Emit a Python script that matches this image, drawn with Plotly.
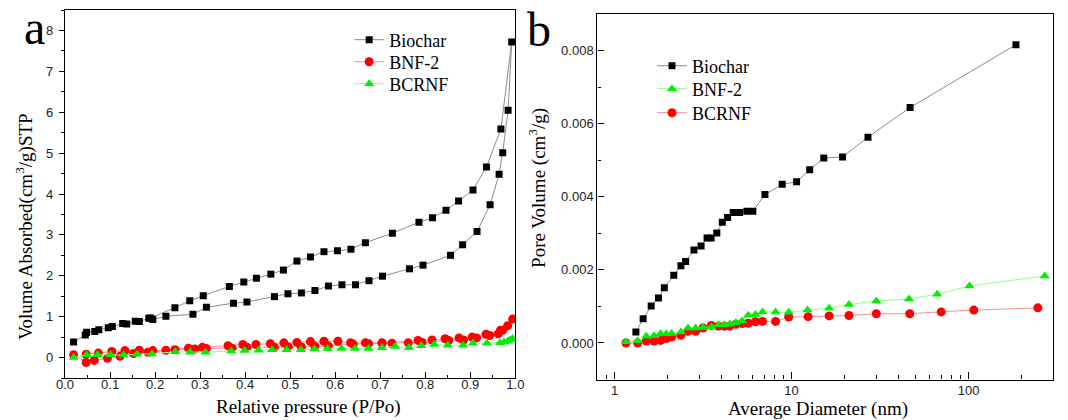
import math
import plotly.graph_objects as go

# ---------------- Panel a : N2 adsorption-desorption isotherms ----------------
biochar_ads_p = [0.019, 0.045, 0.048, 0.066, 0.075, 0.096, 0.105, 0.128, 0.137, 0.156, 0.165,
                 0.186, 0.195, 0.224, 0.284, 0.314, 0.374, 0.404, 0.465, 0.495, 0.525, 0.555,
                 0.585, 0.615, 0.645, 0.675, 0.705, 0.765, 0.795, 0.856, 0.883, 0.915, 0.944,
                 0.964, 0.972, 0.984, 0.992]
biochar_ads_v = [0.38, 0.55, 0.62, 0.64, 0.68, 0.73, 0.76, 0.83, 0.82, 0.89, 0.88,
                 0.96, 0.93, 1.01, 1.06, 1.23, 1.33, 1.36, 1.49, 1.56, 1.58, 1.64,
                 1.75, 1.78, 1.78, 1.88, 1.99, 2.17, 2.26, 2.50, 2.76, 3.08, 3.74,
                 4.48, 5.01, 6.05, 7.72]
biochar_des_p = [0.968, 0.936, 0.906, 0.874, 0.846, 0.816, 0.786, 0.727, 0.667, 0.635, 0.605,
                 0.575, 0.545, 0.515, 0.485, 0.457, 0.425, 0.397, 0.365, 0.307, 0.277, 0.244,
                 0.190]
biochar_des_v = [5.59, 4.66, 4.10, 3.83, 3.60, 3.42, 3.31, 3.04, 2.81, 2.65, 2.61,
                 2.59, 2.46, 2.36, 2.14, 2.04, 1.94, 1.85, 1.74, 1.51, 1.39, 1.22,
                 0.97]

bnf2_ads_p = [0.019, 0.047, 0.065, 0.094, 0.122, 0.152, 0.184, 0.224, 0.244, 0.288, 0.314,
              0.371, 0.404, 0.465, 0.496, 0.525, 0.555, 0.585, 0.640, 0.674, 0.704, 0.726,
              0.762, 0.793, 0.852, 0.885, 0.914, 0.943, 0.962, 0.972, 0.983, 0.994]
bnf2_ads_v = [0.07, -0.12, -0.07, -0.02, 0.03, 0.10, 0.13, 0.18, 0.19, 0.21, 0.22,
              0.23, 0.25, 0.25, 0.26, 0.26, 0.27, 0.28, 0.33, 0.34, 0.35, 0.35,
              0.36, 0.37, 0.42, 0.43, 0.48, 0.54, 0.58, 0.67, 0.78, 0.94]
bnf2_des_p = [0.967, 0.935, 0.904, 0.875, 0.844, 0.815, 0.784, 0.704, 0.667, 0.634, 0.606,
              0.575, 0.545, 0.515, 0.486, 0.456, 0.424, 0.395, 0.362, 0.305, 0.274, 0.195,
              0.165, 0.133, 0.104, 0.074, 0.047]
bnf2_des_v = [0.67, 0.57, 0.50, 0.48, 0.46, 0.43, 0.42, 0.36, 0.36, 0.36, 0.40,
              0.40, 0.39, 0.37, 0.36, 0.34, 0.32, 0.32, 0.29, 0.25, 0.23, 0.17,
              0.18, 0.17, 0.15, 0.11, 0.08]

bcrnf_p = [0.019, 0.048, 0.072, 0.101, 0.130, 0.160, 0.193, 0.245, 0.278, 0.312, 0.369,
           0.399, 0.430, 0.460, 0.492, 0.524, 0.554, 0.583, 0.614, 0.644, 0.674, 0.704,
           0.733, 0.764, 0.791, 0.820, 0.850, 0.884, 0.906, 0.937, 0.966, 0.975, 0.983,
           0.988, 0.994]
bcrnf_v = [0.00, 0.07, 0.07, 0.07, 0.06, 0.08, 0.09, 0.14, 0.13, 0.13, 0.16,
           0.17, 0.18, 0.19, 0.19, 0.19, 0.21, 0.22, 0.22, 0.22, 0.22, 0.24,
           0.27, 0.24, 0.29, 0.32, 0.30, 0.30, 0.35, 0.35, 0.36, 0.38, 0.40,
           0.43, 0.46]

# ---------------- Panel b : pore size distribution ----------------
biochar_d = [1.32, 1.45, 1.61, 1.77, 1.91, 2.16, 2.37, 2.52, 2.81, 3.08, 3.33, 3.51, 3.78,
             4.06, 4.35, 4.68, 5.09, 5.59, 6.04, 7.07, 8.85, 10.67, 12.65, 15.2, 19.4, 27.0,
             46.7, 185.0]
biochar_pv = [0.00030, 0.00066, 0.00101, 0.00123, 0.00151, 0.00185, 0.00211, 0.00223, 0.00254,
              0.00265, 0.00287, 0.00287, 0.00301, 0.00330, 0.00343, 0.00357, 0.00357, 0.00360,
              0.00360, 0.00406, 0.00434, 0.00441, 0.00474, 0.00506, 0.00509, 0.00563, 0.00644,
              0.00816]

bnf2_d = [1.16, 1.35, 1.51, 1.67, 1.82, 1.96, 2.10, 2.37, 2.60, 2.87, 3.16, 3.52, 3.86, 4.17,
          4.48, 4.84, 5.25, 5.69, 6.24, 6.85, 8.12, 9.63, 12.3, 16.3, 21.1, 30.1, 46.0, 66.4,
          101.0, 269.0]
bnf2_pv = [0.00003, 0.00006, 0.00018, 0.00020, 0.00025, 0.00025, 0.00026, 0.00030, 0.00041,
           0.00041, 0.00042, 0.00044, 0.00050, 0.00050, 0.00052, 0.00055, 0.00060, 0.00076,
           0.00078, 0.00085, 0.00085, 0.00084, 0.00090, 0.00095, 0.00105, 0.00115, 0.00120,
           0.00133, 0.00156, 0.00183]

bcrnf_d = [1.16, 1.35, 1.51, 1.67, 1.82, 1.96, 2.10, 2.37, 2.60, 2.87, 3.16, 3.52, 3.86, 4.17,
           4.48, 4.84, 5.25, 5.69, 6.24, 6.85, 8.12, 9.63, 12.4, 16.3, 21.1, 30.1, 46.5, 70.0,
           107.0, 246.0]
bcrnf_pv = [0.00000, 0.00000, 0.00005, 0.00005, 0.00007, 0.00012, 0.00016, 0.00021, 0.00032,
            0.00032, 0.00041, 0.00048, 0.00046, 0.00046, 0.00046, 0.00051, 0.00053, 0.00054,
            0.00058, 0.00059, 0.00059, 0.00071, 0.00072, 0.00074, 0.00075, 0.00080, 0.00080,
            0.00085, 0.00090, 0.00096]

a_xticks = [0.0, 0.1, 0.2, 0.3, 0.4, 0.5, 0.6, 0.7, 0.8, 0.9, 1.0]
a_yticks = [0, 1, 2, 3, 4, 5, 6, 7, 8]
b_xticks = [1, 10, 100]
b_yticks = [0.000, 0.002, 0.004, 0.006, 0.008]

W, H = 1068, 420
SERIF = "Liberation Serif, Times New Roman, serif"
SANS = "Liberation Sans, Arial, sans-serif"

fig = go.Figure()

def line_marker(name, x, y, mcolor, lcolor, symbol, size, xa, ya, legend):
    fig.add_trace(go.Scatter(
        x=x, y=y, name=name, mode="lines+markers",
        line=dict(color=lcolor, width=1),
        marker=dict(color=mcolor, symbol=symbol, size=size, line=dict(width=0)),
        xaxis=xa, yaxis=ya, legend=legend))

# panel a traces (adsorption branch then desorption branch)
line_marker("Biochar", biochar_ads_p + biochar_des_p, biochar_ads_v + biochar_des_v,
            "black", "#8c8c8c", "square", 7, "x", "y", "legend")
line_marker("BNF-2", bnf2_ads_p + bnf2_des_p, bnf2_ads_v + bnf2_des_v,
            "#ff0000", "#ff9090", "circle", 9, "x", "y", "legend3")
line_marker("BCRNF", bcrnf_p, bcrnf_v,
            "#00ee00", "#90ff90", "triangle-up", 9, "x", "y", "legend4")

# panel b traces
line_marker("Biochar", biochar_d, biochar_pv, "black", "#8c8c8c", "square", 7, "x2", "y2", "legend2")
line_marker("BCRNF", bcrnf_d, bcrnf_pv, "#ff0000", "#ff9090", "circle", 9, "x2", "y2", "legend6")
line_marker("BNF-2", bnf2_d, bnf2_pv, "#00ee00", "#90ff90", "triangle-up", 9, "x2", "y2", "legend5")

def px(x):
    return x / W

def py(y):
    return 1 - y / H

axis_common = dict(showline=True, mirror=True, linecolor="black", linewidth=1.3,
                   showgrid=False, zeroline=False, tickcolor="black", tickwidth=1,
                   tickfont=dict(family=SANS, size=13, color="#222"))

minor_b_x = [0.9, 2, 3, 4, 5, 6, 7, 8, 9, 20, 30, 40, 50, 60, 70, 80, 90, 200]

def leg(x, y):
    return dict(x=px(x), y=py(y), xanchor="left", yanchor="middle",
                bgcolor="rgba(0,0,0,0)", font=dict(family=SERIF, size=18, color="black"),
                tracegroupgap=0, itemwidth=30)

fig.update_layout(
    width=W, height=H, margin=dict(l=0, r=0, t=0, b=0),
    paper_bgcolor="white", plot_bgcolor="white",
    xaxis=dict(domain=[px(57), px(515)], range=[0, 1], tickvals=a_xticks, tickformat=".1f",
               ticks="inside", ticklen=6, anchor="y", ticklabelstandoff=-6,
               minor=dict(ticks="inside", ticklen=3, dtick=0.05, tick0=0, tickcolor="black"),
               **axis_common),
    yaxis=dict(domain=[py(378), py(10)], range=[-0.5, 8.5], tickvals=a_yticks,
               ticks="outside", ticklen=5, anchor="x", ticklabelstandoff=3,
               minor=dict(ticks="outside", ticklen=3, dtick=0.5, tick0=0, tickcolor="black"),
               **axis_common),
    xaxis2=dict(domain=[px(598.5), px(1062)], type="log",
                range=[math.log10(0.8), math.log10(300)],
                tickvals=b_xticks, ticktext=[str(v) for v in b_xticks],
                ticks="inside", ticklen=7, anchor="y2", ticklabelstandoff=-1,
                minor=dict(ticks="inside", ticklen=4, tickvals=minor_b_x, tickcolor="black"),
                **axis_common),
    yaxis2=dict(domain=[py(379.5), py(14)], range=[-0.001, 0.009], tickvals=b_yticks,
                tickformat=".3f", ticks="inside", ticklen=6, anchor="x2",
                minor=dict(ticks="inside", ticklen=3, dtick=0.001, tick0=0, tickcolor="black"),
                **axis_common),
    legend=leg(346, 40),
    legend3=leg(346, 62),
    legend4=leg(346, 84),
    legend2=leg(654, 66),
    legend5=leg(654, 89),
    legend6=leg(654, 113),
    showlegend=True,
)

def ann(text, x, y, size, angle=0):
    fig.add_annotation(text=text, x=px(x), y=py(y), xref="paper", yref="paper",
                       showarrow=False, textangle=angle, xanchor="center", yanchor="middle",
                       font=dict(family=SERIF, size=size, color="black"))

ann("a", 26, 28, 48)
ann("b", 539, 30, 48)
ann("Relative pressure (P/Po)", 305, 407, 19)
ann("Volume Absorbed(cm<sup>3</sup>/g)STP", 15, 227, 19, -90)
ann("Average Diameter (nm)", 823, 409, 19)
ann("Pore Volume (cm<sup>3</sup>/g)", 538, 188, 19, -90)

fig.write_html("out.html")
